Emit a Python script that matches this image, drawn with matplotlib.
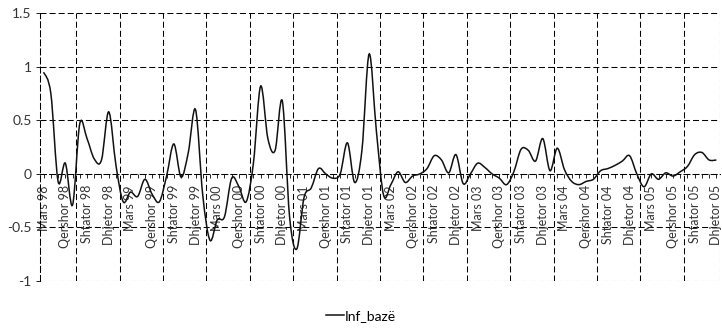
import numpy as np
import matplotlib
matplotlib.use("Agg")
import matplotlib.pyplot as plt
from matplotlib.path import Path
from matplotlib.patches import PathPatch
from matplotlib.lines import Line2D

plt.rcParams['font.family'] = ['Lato', 'DejaVu Sans']

# monthly values, Mars 98 ... Dhjetor 05
inf_baze = [
    0.95, 0.75, -0.07, 0.10, -0.29, 0.47, 0.33, 0.14, 0.13, 0.58,   # Mar98-Dec98
    0.08, -0.26, -0.17, -0.21, -0.05, -0.19, -0.26, -0.02, 0.28, -0.03,  # Jan99-Oct99
    0.20, 0.60, -0.20, -0.62, -0.43, -0.40, -0.04, -0.12, -0.26, 0.10,  # Nov99-Aug00
    0.82, 0.33, 0.22, 0.68, -0.40, -0.70, -0.22, -0.13, 0.05, 0.00,   # Sep00-Jun01
    -0.04, 0.00, 0.29, -0.08, 0.22, 1.12, 0.40, -0.20, -0.10, 0.02,   # Jul01-Apr02
    -0.08, -0.02, 0.00, 0.05, 0.17, 0.13, 0.01, 0.18, -0.09, 0.00,    # May02-Feb03
    0.10, 0.06, 0.00, -0.04, -0.10, 0.02, 0.23, 0.22, 0.12, 0.33,     # Mar03-Dec03
    0.03, 0.24, 0.04, -0.07, -0.10, -0.07, -0.05, 0.03, 0.05, 0.08,   # Jan04-Oct04
    0.12, 0.17, 0.00, -0.12, 0.00, -0.05, 0.01, -0.02, 0.02, 0.07,    # Nov04-Aug05
    0.18, 0.20, 0.13, 0.13,                                           # Sep05-Dec05
]

tick_labels = [
    'Mars 98', 'Qershor 98', 'Shtator 98', 'Dhjetor 98',
    'Mars 99', 'Qershor 99', 'Shtator 99', 'Dhjetor 99',
    'Mars 00', 'Qershor 00', 'Shtator 00', 'Dhjetor 00',
    'Mars 01', 'Qershor 01', 'Shtator 01', 'Dhjetor 01',
    'Mars 02', 'Qershor 02', 'Shtator 02', 'Dhjetor 02',
    'Mars 03', 'Qershor 03', 'Shtator 03', 'Dhjetor 03',
    'Mars 04', 'Qershor 04', 'Shtator 04', 'Dhjetor 04',
    'Mars 05', 'Qershor 05', 'Shtator 05', 'Dhjetor 05',
]

n = len(inf_baze)
x = np.arange(n)
y = np.array(inf_baze)

fig = plt.figure(figsize=(7.22, 3.34), dpi=100)
ax = fig.add_axes([40 / 722, 1 - 281 / 334, 680 / 722, (281 - 13.3) / 334])

dash = (0, (5.8, 2.9))
grid_kw = dict(color='black', lw=0.75, linestyle=dash, zorder=1)

# Excel-style smoothed line: cubic Bezier through the data points
verts = [(x[0], y[0])]
codes = [Path.MOVETO]
for i in range(n - 1):
    p0 = np.array([x[max(i - 1, 0)], y[max(i - 1, 0)]])
    p1 = np.array([x[i], y[i]])
    p2 = np.array([x[i + 1], y[i + 1]])
    p3 = np.array([x[min(i + 2, n - 1)], y[min(i + 2, n - 1)]])
    c1 = p1 + (p2 - p0) / 6
    c2 = p2 - (p3 - p1) / 6
    verts += [tuple(c1), tuple(c2), tuple(p2)]
    codes += [Path.CURVE4] * 3
ax.add_patch(PathPatch(Path(verts, codes), facecolor='none',
                       edgecolor='#111111', lw=1.1, zorder=3))

ax.set_xlim(-0.5, n - 0.5)
ax.set_ylim(-1, 1.5)
ax.set_yticks([-1, -0.5, 0, 0.5, 1, 1.5])
ax.set_yticklabels(['-1', '-0.5', '0', '0.5', '1', '1.5'], fontsize=10, color='#333333')

for yy in [-1, -0.5, 0.5, 1, 1.5]:
    ax.axhline(yy, **grid_kw)
for xx in list(np.arange(4.5, n, 6)) + [n - 0.5]:
    ax.axvline(xx, **grid_kw)

for side in ['top', 'right']:
    ax.spines[side].set_visible(False)
ax.spines['left'].set_linestyle(dash)
ax.spines['left'].set_linewidth(0.75)
ax.spines['bottom'].set_position(('data', 0))
ax.spines['bottom'].set_linestyle(dash)
ax.spines['bottom'].set_linewidth(0.75)

ax.set_xticks(np.arange(0, n, 3))
ax.set_xticklabels(tick_labels, rotation=90, fontsize=9, color='#333333')
ax.set_xticks(np.arange(n), minor=True)
ax.tick_params(axis='x', which='both', direction='out', length=3, width=0.6, pad=5)
ax.tick_params(axis='y', direction='out', length=3, width=0.6, pad=3)

handle = Line2D([], [], color='#111111', lw=1.1)
fig.legend([handle], ['Inf_bazë'], loc='center', bbox_to_anchor=(0.5, 1 - 316 / 334),
           frameon=False, fontsize=10, handlelength=1.3, handletextpad=0.1)

fig.savefig('out.png', dpi=100)
